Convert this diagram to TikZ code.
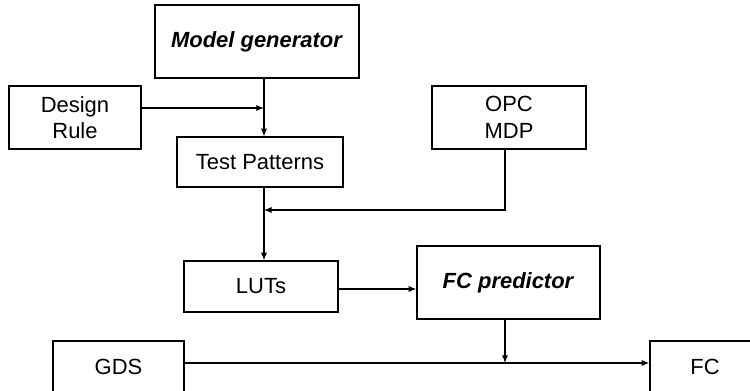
\documentclass[tikz,border=0pt]{standalone}
\usepackage{fontspec}
\setmainfont{Liberation Sans}
\usetikzlibrary{arrows.meta,positioning}

\tikzset{
  blk/.style={draw, line width=0.7pt, inner sep=0pt, align=center, font=\fontsize{12.5}{15}\selectfont},
  arr/.style={line width=0.7pt, -{Latex[length=4.4pt,width=3.6pt]}},
  ln/.style={line width=0.7pt}
}

\begin{document}
\begin{tikzpicture}[x=0.02cm, y=-0.02cm]
\clip (0,0) rectangle (750,391);
% boxes
\node[blk, minimum width=204*0.02cm, minimum height=73*0.02cm] (mgen) at (257,41.5) {\textbf{\textit{Model generator}}};
\node[blk, minimum width=132*0.02cm, minimum height=63*0.02cm] (drule) at (75,117.5) {Design\\Rule};
\node[blk, minimum width=166*0.02cm, minimum height=50*0.02cm] (tpat) at (260,162) {Test Patterns};
\node[blk, minimum width=154*0.02cm, minimum height=63*0.02cm] (opc) at (509,117.5) {OPC\\MDP};
\node[blk, minimum width=154*0.02cm, minimum height=51*0.02cm] (luts) at (261,286.5) {LUTs};
\node[blk, minimum width=183*0.02cm, minimum height=73*0.02cm] (fcp) at (508.5,282.5) {\textbf{\textit{FC predictor}}};
\node[blk, minimum width=131*0.02cm, minimum height=52*0.02cm] (gds) at (118.5,367) {GDS};
\node[blk, minimum width=110*0.02cm, minimum height=52*0.02cm] (fc) at (705,367) {FC};
% junctions
\coordinate (j1) at (264,108);
\coordinate (j2) at (264,210);
\coordinate (j3) at (505,363);
% connectors
\draw[arr] (mgen.south -| j1) -- (tpat.north -| j1);
\draw[arr] (drule.east |- j1) -- (j1);
\draw[arr] (tpat.south -| j2) -- (luts.north -| j2);
\draw[arr] (opc.south -| j3) |- (j2);
\draw[arr] (luts.east |- 0,289) -- (fcp.west |- 0,289);
\draw[arr] (gds.east |- j3) -- (fc.west |- j3);
\draw[arr] (fcp.south -| j3) -- (j3);
\end{tikzpicture}
\end{document}
